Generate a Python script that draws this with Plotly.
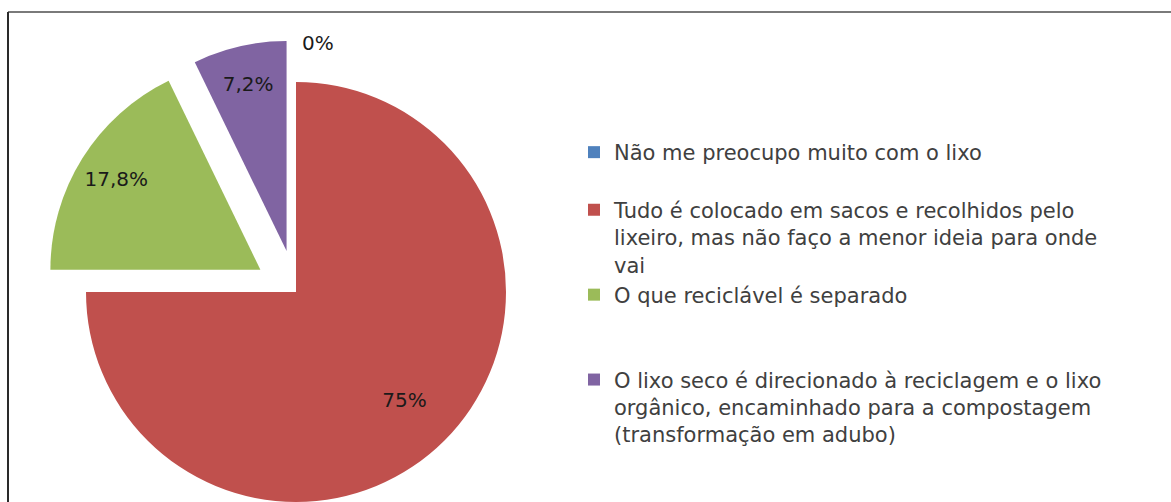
import math
import plotly.graph_objects as go

# ---- data ----
labels = [
    "Não me preocupo muito com o lixo",
    "Tudo é colocado em sacos e recolhidos pelo<br>lixeiro, mas não faço a menor ideia para onde<br>vai",
    "O que reciclável é separado",
    "O lixo seco é direcionado à reciclagem e o lixo<br>orgânico, encaminhado para a compostagem<br>(transformação em adubo)",
]
values = [0, 75, 17.8, 7.2]
colors = ["#4F81BD", "#C0504D", "#9BBB59", "#8064A2"]
# explosion of each slice, as a fraction of the radius
pulls = [0.127, 0, 0.2, 0.2]
text_positions = ["outside", "inside", "inside", "inside"]
# hole used by the label layer so each label sits further out, as in the original
label_holes = [0, 0.46, 0.62, 0]
# blank lines in the legend so the entries are spaced like the original
legend_pad = ["<br> ", "", "<br> <br> ", ""]

slice_text = [(f"{v:g}".replace(".", ",") + "%") for v in values]
legend_labels = [l + p for l, p in zip(labels, legend_pad)]

W, H = 1171, 502
cx, cy, r = 296, 292, 210  # pie centre and radius in pixels
total = sum(values)

LABEL_FONT = "DejaVu Sans, Verdana, sans-serif"
LEGEND_FONT = "DejaVu Sans, Verdana, sans-serif"
TRANSPARENT = "rgba(0,0,0,0)"

fig = go.Figure()

# legend-only pie (tiny, hidden under the big slice); provides the legend entries
fig.add_trace(go.Pie(
    labels=legend_labels, values=values, sort=False, direction="clockwise", rotation=0,
    marker=dict(colors=colors, line=dict(width=0)), textinfo="none", hoverinfo="skip",
    domain=dict(x=[400 / W, 400.4 / W], y=[1 - 400.4 / H, 1 - 400 / H]),
    showlegend=True,
))

common = dict(labels=legend_labels, values=values, sort=False, direction="clockwise",
              rotation=0, hoverinfo="skip", showlegend=False)

# one pie per slice so that each exploded slice keeps the full radius
cum = 0.0
for i, v in enumerate(values):
    mid = math.radians((cum + v / 2) / total * 360)
    cum += v
    sx = cx + pulls[i] * r * math.sin(mid)
    sy = cy - pulls[i] * r * math.cos(mid)
    dom = dict(x=[(sx - r) / W, (sx + r) / W],
               y=[max(0, 1 - (sy + r) / H), min(1, 1 - (sy - r) / H)])
    cols = [c if j == i else TRANSPARENT for j, c in enumerate(colors)]
    # coloured slice
    fig.add_trace(go.Pie(
        marker=dict(colors=cols, line=dict(width=0)), textinfo="none", domain=dom, **common,
    ))
    # label layer
    txt = [t if j == i else "" for j, t in enumerate(slice_text)]
    fig.add_trace(go.Pie(
        marker=dict(colors=[TRANSPARENT] * len(values), line=dict(width=0)),
        hole=label_holes[i],
        text=txt, textinfo="text", textposition=text_positions,
        insidetextorientation="horizontal",
        textfont=dict(family=LABEL_FONT, size=20, color="#1a1a1a"),
        domain=dom, **common,
    ))

fig.update_layout(
    width=W,
    height=H,
    margin=dict(l=0, r=0, t=0, b=0),
    paper_bgcolor="white",
    plot_bgcolor="white",
    uniformtext=dict(minsize=20, mode="show"),
    legend=dict(
        x=574 / W,
        y=1 - 132 / H,
        xanchor="left",
        yanchor="top",
        valign="top",
        font=dict(family=LEGEND_FONT, size=21, color="#404040"),
        bgcolor="rgba(0,0,0,0)",
    ),
    shapes=[
        dict(type="line", xref="paper", yref="paper", x0=8 / W, x1=1.05, y0=1 - 12 / H, y1=1 - 12 / H,
             line=dict(color="#7a7a7a", width=2)),
        dict(type="line", xref="paper", yref="paper", x0=8 / W, x1=8 / W, y0=-0.1, y1=1 - 12 / H,
             line=dict(color="#2a2a2a", width=2)),
    ],
)

fig.write_html("out.html")
